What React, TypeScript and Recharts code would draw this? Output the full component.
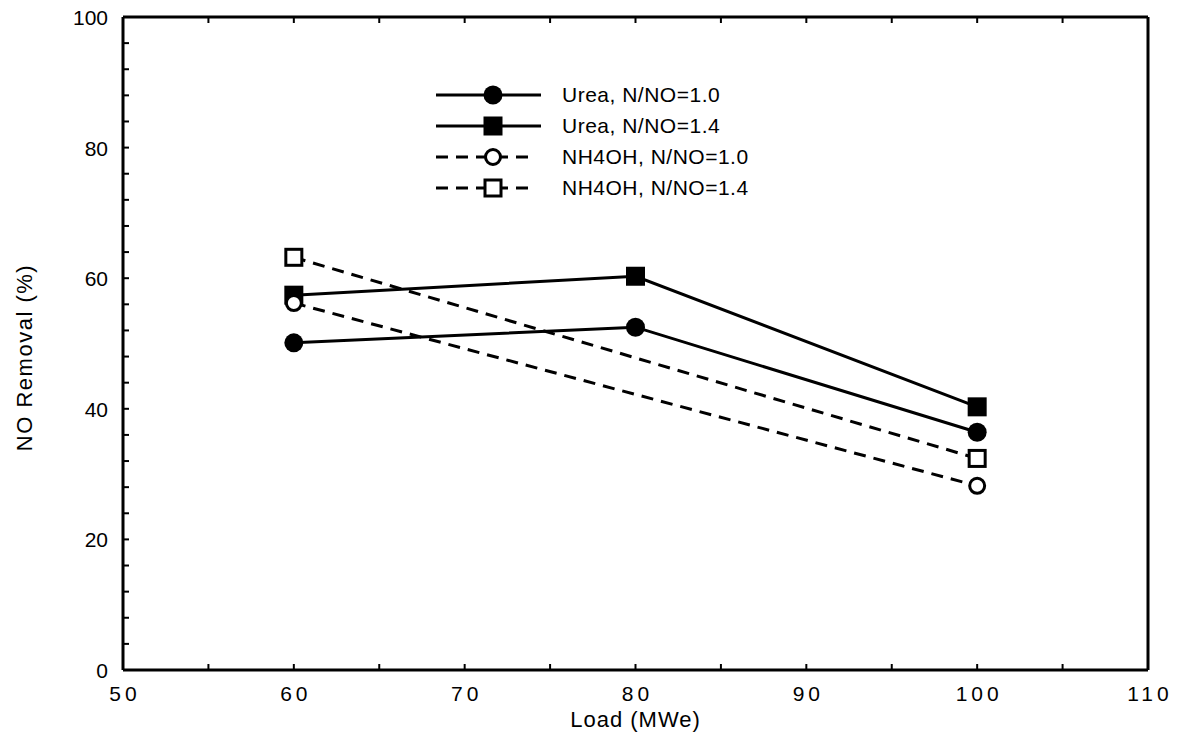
import React from "react";
import { LineChart, Line, XAxis, YAxis, Legend } from "recharts";

const loads = [60, 80, 100];
const ureaN10 = [50.1, 52.5, 36.4];
const ureaN14 = [57.4, 60.3, 40.3];
const nh4ohN10 = [56.2, null, 28.2];
const nh4ohN14 = [63.2, null, 32.4];

const xTicks = [50, 55, 60, 65, 70, 75, 80, 85, 90, 95, 100, 105, 110];
const yTicks = [0, 4, 8, 12, 16, 20, 24, 28, 32, 36, 40, 44, 48, 52, 56, 60, 64, 68, 72, 76, 80, 84, 88, 92, 96, 100];

const seriesNames = ["Urea, N/NO=1.0", "Urea, N/NO=1.4", "NH4OH, N/NO=1.0", "NH4OH, N/NO=1.4"];

const data = loads.map((load, i) => ({
  load,
  u10: ureaN10[i],
  u14: ureaN14[i],
  n10: nh4ohN10[i],
  n14: nh4ohN14[i],
}));

const FONT = "'Liberation Sans', Arial, sans-serif";

const series = [
  { key: "u10", name: seriesNames[0], dashed: false, shape: "circle", filled: true },
  { key: "u14", name: seriesNames[1], dashed: false, shape: "square", filled: true },
  { key: "n10", name: seriesNames[2], dashed: true, shape: "circle", filled: false },
  { key: "n14", name: seriesNames[3], dashed: true, shape: "square", filled: false },
];

function Marker({ cx, cy, shape, filled }: any) {
  if (cx == null || cy == null) return <g />;
  if (shape === "circle") {
    return filled ? (
      <circle cx={cx} cy={cy} r={9.5} fill="#000" />
    ) : (
      <circle cx={cx} cy={cy} r={7.5} fill="#fff" stroke="#000" strokeWidth={3} />
    );
  }
  return filled ? (
    <rect x={cx - 9.5} y={cy - 9.5} width={19} height={19} fill="#000" />
  ) : (
    <rect x={cx - 8} y={cy - 8} width={16} height={16} fill="#fff" stroke="#000" strokeWidth={3} />
  );
}

const BottomTick = ({ x, y, payload }: any) => {
  const major = payload.value % 10 === 0;
  return (
    <g>
      <line x1={x} y1={y} x2={x} y2={y - 6} stroke="#000" strokeWidth={2} />
      {major && (
        <text x={x + 2} y={y + 31} textAnchor="middle" fontSize={21} letterSpacing={4} fontFamily={FONT} fill="#000">
          {payload.value}
        </text>
      )}
    </g>
  );
};

const TopTick = ({ x, y }: any) => (
  <line x1={x} y1={y} x2={x} y2={y + 6} stroke="#000" strokeWidth={2} />
);

const LeftTick = ({ x, y, payload }: any) => {
  const major = payload.value % 20 === 0;
  return (
    <g>
      <line x1={x} y1={y} x2={x + 6} y2={y} stroke="#000" strokeWidth={2} />
      {major && (
        <text x={x - 15} y={y + 8} textAnchor="end" fontSize={21} fontFamily={FONT} fill="#000">
          {payload.value}
        </text>
      )}
    </g>
  );
};

const RightTick = ({ x, y }: any) => (
  <line x1={x} y1={y} x2={x - 6} y2={y} stroke="#000" strokeWidth={2} />
);

function LegendBox() {
  return (
    <div style={{ fontFamily: FONT, fontSize: 21, color: "#000", letterSpacing: 0.5 }}>
      {series.map((s) => (
        <div key={s.key} style={{ display: "flex", alignItems: "center", height: 31 }}>
          <svg width={126} height={30} style={{ flex: "none" }}>
            <line
              x1={0}
              y1={15}
              x2={s.dashed ? 98 : 105}
              y2={15}
              stroke="#000"
              strokeWidth={3}
              strokeDasharray={s.dashed ? "12 8" : undefined}
            />
            <Marker cx={57} cy={15} shape={s.shape} filled={s.filled} />
          </svg>
          <span>{s.name}</span>
        </div>
      ))}
    </div>
  );
}

export default function App() {
  return (
    <div style={{ position: "absolute", left: 0, top: 0, background: "#fff" }}>
      <LineChart width={1183} height={739} data={data} margin={{ top: 16, right: 34, bottom: 0, left: 0 }}>
        <XAxis
          xAxisId="b"
          dataKey="load"
          type="number"
          domain={[50, 110]}
          ticks={xTicks}
          interval={0}
          tickSize={0}
          tickMargin={0}
          tickLine={false}
          tick={<BottomTick />}
          height={69}
          axisLine={{ stroke: "#000", strokeWidth: 3 }}
          label={{
            content: ({ viewBox }: any) => (
              <text
                x={viewBox.x + viewBox.width / 2}
                y={727}
                textAnchor="middle"
                fontSize={22}
                letterSpacing={1}
                fontFamily={FONT}
                fill="#000"
              >
                Load (MWe)
              </text>
            ),
          }}
        />
        <XAxis
          xAxisId="t"
          orientation="top"
          dataKey="load"
          type="number"
          domain={[50, 110]}
          ticks={xTicks}
          interval={0}
          tickSize={0}
          tickMargin={0}
          tickLine={false}
          tick={<TopTick />}
          height={1}
          axisLine={{ stroke: "#000", strokeWidth: 3 }}
        />
        <YAxis
          yAxisId="l"
          type="number"
          domain={[0, 100]}
          ticks={yTicks}
          interval={0}
          tickSize={0}
          tickMargin={0}
          tickLine={false}
          tick={<LeftTick />}
          width={123}
          axisLine={{ stroke: "#000", strokeWidth: 3 }}
          label={{
            content: ({ viewBox }: any) => {
              const cy = viewBox.y + viewBox.height / 2 + 14;
              return (
                <text
                  x={24}
                  y={cy}
                  transform={`rotate(-90, 24, ${cy})`}
                  textAnchor="middle"
                  dominantBaseline="central"
                  fontSize={22}
                  letterSpacing={1.5}
                  fontFamily={FONT}
                  fill="#000"
                >
                  NO Removal (%)
                </text>
              );
            },
          }}
        />
        <YAxis
          yAxisId="r"
          orientation="right"
          type="number"
          domain={[0, 100]}
          ticks={yTicks}
          interval={0}
          tickSize={0}
          tickMargin={0}
          tickLine={false}
          tick={<RightTick />}
          width={1}
          axisLine={{ stroke: "#000", strokeWidth: 3 }}
        />
        <Legend
          layout="vertical"
          align="center"
          verticalAlign="middle"
          content={() => <LegendBox />}
          wrapperStyle={{ position: "absolute", left: 436, top: 79, width: 400 }}
        />
        {series.map((s) => (
          <Line
            key={s.key}
            xAxisId="b"
            yAxisId="l"
            dataKey={s.key}
            name={s.name}
            stroke="#000"
            strokeWidth={3}
            strokeDasharray={s.dashed ? "12 8" : undefined}
            connectNulls
            isAnimationActive={false}
            dot={(p: any) => <Marker key={`${s.key}-${p.index}`} cx={p.cx} cy={p.cy} shape={s.shape} filled={s.filled} />}
            activeDot={false}
          />
        ))}
      </LineChart>
    </div>
  );
}
